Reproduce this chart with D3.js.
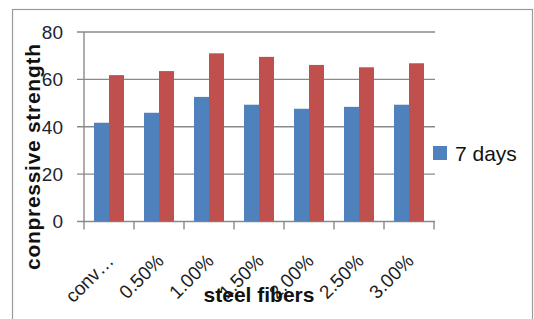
<!DOCTYPE html>
<html>
<head>
<meta charset="utf-8">
<script src="https://cdn.jsdelivr.net/npm/d3@7"></script>
<style>
	body { margin: 0; background: #fff; }
	svg { display: block; font-family: 'Liberation Sans', Arial, sans-serif; }
</style>
</head>
<body>
<div class="chart"></div>
<script>
const width = 534,
	height = 319

// data
const categories = ['conv…', '0.50%', '1.00%', '1.50%', '2.00%', '2.50%', '3.00%']
const days7 = [41.7, 45.9, 52.6, 49.3, 47.6, 48.4, 49.3]
const days28 = [61.8, 63.5, 71.0, 69.5, 66.1, 65.1, 66.8]
const yTicks = [0, 20, 40, 60, 80]
const seriesNames = ['7 days', '28 days']
const seriesColors = ['#4f81bd', '#c0504d']

const rows = categories.map((c, i) => ({ cat: c, values: [days7[i], days28[i]] }))

const plot = { left: 84, right: 434, top: 32, bottom: 221.5 }
const gridColor = '#8a8a8a'

const svg = d3
	.select('.chart')
	.append('svg')
	.attr('width', width)
	.attr('height', height)

// chart border
svg
	.append('rect')
	.attr('x', 12.5)
	.attr('y', 9.5)
	.attr('width', 520)
	.attr('height', 330)
	.attr('fill', '#fff')
	.attr('stroke', '#9a9a9a')
	.attr('stroke-width', 1.2)

const x = d3
	.scaleBand()
	.domain(categories)
	.range([plot.left, plot.right])
	.paddingInner(0.4)
	.paddingOuter(0.2)

const xInner = d3
	.scaleBand()
	.domain(d3.range(seriesNames.length))
	.range([0, x.bandwidth()])

const y = d3.scaleLinear().domain([0, 80]).range([plot.bottom, plot.top])

// gridlines + y ticks
svg
	.append('g')
	.selectAll('line')
	.data(yTicks)
	.join('line')
	.attr('x1', plot.left - 7)
	.attr('x2', plot.right + 1)
	.attr('y1', d => y(d))
	.attr('y2', d => y(d))
	.attr('stroke', gridColor)
	.attr('stroke-width', 1.4)

// y axis line
svg
	.append('line')
	.attr('x1', plot.left)
	.attr('x2', plot.left)
	.attr('y1', plot.top)
	.attr('y2', plot.bottom)
	.attr('stroke', gridColor)
	.attr('stroke-width', 1.4)

// x ticks at band boundaries
const step = x.step()
const boundaries = d3.range(categories.length + 1).map(i => plot.left + i * step)
svg
	.append('g')
	.selectAll('line')
	.data(boundaries)
	.join('line')
	.attr('x1', d => d)
	.attr('x2', d => d)
	.attr('y1', plot.bottom)
	.attr('y2', plot.bottom + 8)
	.attr('stroke', gridColor)
	.attr('stroke-width', 1.4)

// bars
svg
	.append('g')
	.selectAll('g')
	.data(rows)
	.join('g')
	.attr('transform', d => `translate(${x(d.cat)},0)`)
	.selectAll('rect')
	.data(d => d.values)
	.join('rect')
	.attr('x', (d, i) => xInner(i))
	.attr('width', xInner.bandwidth())
	.attr('y', d => y(d))
	.attr('height', d => y(0) - y(d))
	.attr('fill', (d, i) => seriesColors[i])

// y tick labels
svg
	.append('g')
	.selectAll('text')
	.data(yTicks)
	.join('text')
	.attr('x', 63)
	.attr('y', d => y(d))
	.attr('dy', '0.36em')
	.attr('text-anchor', 'end')
	.style('font-size', '19px')
	.style('fill', '#1c2433')
	.text(d => d)

// x tick labels, rotated
svg
	.append('g')
	.selectAll('text')
	.data(categories)
	.join('text')
	.attr('text-anchor', 'end')
	.attr('transform', d => `translate(${x(d) + x.bandwidth() / 2 + 6},262) rotate(-45)`)
	.style('font-size', '19px')
	.style('fill', '#1c1c1c')
	.text(d => d)

// axis titles
svg
	.append('text')
	.attr('text-anchor', 'middle')
	.attr('transform', 'translate(40,157) rotate(-90)')
	.attr('textLength', 226)
	.attr('lengthAdjust', 'spacing')
	.style('font-size', '21px')
	.style('font-weight', 'bold')
	.style('fill', '#111')
	.text('conpressive strength')

svg
	.append('text')
	.attr('text-anchor', 'middle')
	.attr('x', 259)
	.attr('y', 302)
	.style('font-size', '21px')
	.style('font-weight', 'bold')
	.style('fill', '#111')
	.text('steel fibers')

// legend (only the first entry fits in the picture)
const legend = svg.append('g').attr('transform', 'translate(433,146)')
legend
	.append('rect')
	.attr('width', 14)
	.attr('height', 14)
	.attr('fill', seriesColors[0])
legend
	.append('text')
	.attr('x', 22)
	.attr('y', 15)
	.style('font-size', '21px')
	.style('fill', '#111')
	.text(seriesNames[0])
</script>
</body>
</html>
